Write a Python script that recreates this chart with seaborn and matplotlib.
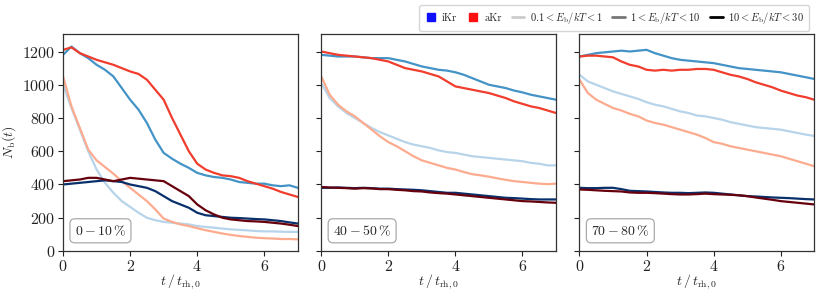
import numpy as np
import pandas as pd
import matplotlib
matplotlib.use("Agg")
import matplotlib.pyplot as plt
import seaborn as sns
from matplotlib.lines import Line2D

# ---------------- data ----------------
t = [0.0, 0.25, 0.5, 0.75, 1.0, 1.25, 1.5, 1.75, 2.0, 2.25, 2.5, 2.75, 3.0, 3.25, 3.5,
     3.75, 4.0, 4.25, 4.5, 4.75, 5.0, 5.25, 5.5, 5.75, 6.0, 6.25, 6.5, 6.75, 7.0]

panel_labels = [r"$0-10\,\%$", r"$40-50\,\%$", r"$70-80\,\%$"]

# panel 1 (0-10 %)
p1_iKr_light = [1000, 860, 730, 600, 490, 410, 350, 300, 265, 230, 200, 185, 175, 170, 165,
                160, 150, 145, 140, 135, 130, 127, 124, 120, 118, 118, 116, 115, 115]
p1_aKr_light = [1050, 870, 740, 610, 545, 505, 465, 420, 380, 340, 300, 250, 195, 175, 160,
                150, 137, 125, 115, 105, 97, 90, 85, 80, 77, 75, 72, 72, 70]
p1_iKr_mid = [1180, 1230, 1190, 1160, 1120, 1090, 1050, 980, 910, 850, 770, 670, 590, 555, 525,
              500, 470, 455, 445, 440, 430, 415, 410, 405, 405, 395, 390, 395, 380]
p1_aKr_mid = [1210, 1225, 1190, 1170, 1150, 1135, 1120, 1100, 1080, 1065, 1030, 970, 910, 800, 700,
              600, 525, 490, 470, 455, 450, 440, 420, 405, 390, 375, 355, 340, 325]
p1_iKr_heavy = [400, 405, 410, 415, 420, 425, 420, 415, 400, 390, 380, 360, 330, 300, 280,
                260, 230, 215, 210, 205, 200, 198, 195, 192, 190, 185, 180, 172, 165]
p1_aKr_heavy = [420, 425, 430, 440, 440, 430, 420, 430, 440, 435, 430, 425, 420, 390, 360,
                330, 280, 245, 220, 200, 190, 185, 180, 178, 175, 170, 165, 158, 150]

# panel 2 (40-50 %)
p2_iKr_light = [1010, 920, 870, 830, 800, 770, 740, 715, 695, 675, 655, 640, 630, 620, 605,
                595, 590, 580, 570, 565, 560, 555, 550, 545, 540, 530, 525, 515, 515]
p2_aKr_light = [1050, 940, 880, 840, 810, 770, 730, 690, 655, 630, 600, 570, 545, 530, 515,
                500, 490, 475, 462, 455, 447, 437, 428, 420, 415, 410, 405, 402, 405]
p2_iKr_mid = [1180, 1175, 1170, 1170, 1170, 1165, 1160, 1160, 1160, 1150, 1140, 1125, 1110, 1100, 1090,
              1085, 1075, 1060, 1040, 1020, 1000, 990, 980, 965, 954, 940, 930, 920, 910]
p2_aKr_mid = [1200, 1190, 1180, 1175, 1170, 1165, 1160, 1150, 1140, 1120, 1100, 1090, 1080, 1065, 1050,
              1020, 990, 980, 970, 960, 950, 935, 920, 900, 885, 870, 860, 845, 830]
p2_iKr_heavy = [380, 380, 382, 380, 378, 380, 378, 375, 375, 372, 370, 368, 365, 360, 355,
                350, 350, 345, 340, 335, 330, 325, 320, 318, 315, 312, 310, 310, 310]
p2_aKr_heavy = [385, 382, 380, 378, 375, 378, 376, 372, 372, 368, 365, 360, 358, 352, 348,
                345, 340, 335, 330, 325, 320, 315, 310, 305, 300, 298, 295, 292, 290]

# panel 3 (70-80 %)
p3_iKr_light = [1060, 1020, 1000, 980, 960, 945, 930, 915, 895, 880, 870, 855, 840, 830, 815,
                810, 800, 790, 775, 765, 755, 745, 740, 735, 730, 720, 710, 700, 692]
p3_aKr_light = [1030, 950, 910, 885, 860, 845, 825, 810, 785, 770, 760, 745, 730, 715, 700,
                680, 655, 645, 630, 620, 610, 600, 590, 580, 570, 555, 540, 525, 510]
p3_iKr_mid = [1170, 1180, 1190, 1195, 1200, 1205, 1200, 1205, 1210, 1190, 1175, 1160, 1150, 1145, 1140,
              1135, 1130, 1120, 1110, 1100, 1095, 1090, 1085, 1080, 1075, 1065, 1055, 1045, 1035]
p3_aKr_mid = [1170, 1175, 1175, 1170, 1165, 1140, 1120, 1110, 1090, 1085, 1090, 1085, 1090, 1090, 1095,
              1095, 1090, 1075, 1060, 1050, 1035, 1015, 1000, 985, 965, 950, 935, 925, 910]
p3_iKr_heavy = [380, 378, 378, 380, 380, 372, 362, 360, 358, 355, 352, 350, 350, 348, 350,
                352, 350, 345, 340, 335, 330, 328, 325, 322, 320, 318, 315, 312, 310]
p3_aKr_heavy = [370, 368, 365, 362, 360, 358, 352, 350, 350, 348, 345, 342, 340, 340, 342,
                345, 342, 340, 338, 335, 330, 322, 315, 308, 300, 295, 290, 285, 280]

panels = [
    [("iKr", "light", p1_iKr_light), ("aKr", "light", p1_aKr_light),
     ("iKr", "mid", p1_iKr_mid), ("aKr", "mid", p1_aKr_mid),
     ("iKr", "heavy", p1_iKr_heavy), ("aKr", "heavy", p1_aKr_heavy)],
    [("iKr", "light", p2_iKr_light), ("aKr", "light", p2_aKr_light),
     ("iKr", "mid", p2_iKr_mid), ("aKr", "mid", p2_aKr_mid),
     ("iKr", "heavy", p2_iKr_heavy), ("aKr", "heavy", p2_aKr_heavy)],
    [("iKr", "light", p3_iKr_light), ("aKr", "light", p3_aKr_light),
     ("iKr", "mid", p3_iKr_mid), ("aKr", "mid", p3_aKr_mid),
     ("iKr", "heavy", p3_iKr_heavy), ("aKr", "heavy", p3_aKr_heavy)],
]

# ---------------- style ----------------
sns.set_style("ticks")
plt.rcParams["font.family"] = ["serif"]
plt.rcParams["font.serif"] = ["cmr10", "DejaVu Serif"]
plt.rcParams["mathtext.fontset"] = "cm"
plt.rcParams["axes.formatter.use_mathtext"] = True
plt.rcParams["axes.unicode_minus"] = False

blues = plt.get_cmap("Blues")
reds = plt.get_cmap("Reds")
colors = {
    ("iKr", "light"): blues(0.3), ("iKr", "mid"): blues(0.62), ("iKr", "heavy"): blues(1.0),
    ("aKr", "light"): reds(0.3), ("aKr", "mid"): reds(0.62), ("aKr", "heavy"): reds(1.0),
}

fig, axes = plt.subplots(1, 3, figsize=(8.3, 2.91), dpi=100, sharey=True)
fig.subplots_adjust(left=0.076, right=0.981, bottom=0.1375, top=0.883, wspace=0.1)

for ax, series, lab in zip(axes, panels, panel_labels):
    rows = []
    for kind, ebin, vals in series:
        for tt, v in zip(t, vals):
            rows.append({"t": tt, "N": v, "key": f"{kind}-{ebin}"})
    df = pd.DataFrame(rows)
    pal = {f"{k}-{e}": colors[(k, e)] for k, e, _ in series}
    sns.lineplot(data=df, x="t", y="N", hue="key", palette=pal, ax=ax,
                 legend=False, linewidth=1.6, estimator=None, sort=False)
    ax.set_xlim(0, 7)
    ax.set_ylim(0, 1305)
    ax.set_xticks([0, 2, 4, 6])
    ax.set_yticks([0, 200, 400, 600, 800, 1000, 1200])
    ax.set_xlabel(r"$t\,/\,t_{\mathrm{rh},0}$", fontsize=10, labelpad=-1)
    ax.set_ylabel("")
    ax.tick_params(labelsize=11.5, direction="out", length=3.5, width=0.8, colors="#222222", pad=2)
    for sp in ax.spines.values():
        sp.set_visible(True)
        sp.set_color("#333333")
        sp.set_linewidth(0.9)
    ax.text(0.05, 0.06, lab, transform=ax.transAxes, fontsize=10, ha="left", va="bottom",
            bbox=dict(boxstyle="round,pad=0.35", fc="white", ec="#aaaaaa", lw=0.9))

axes[0].set_ylabel(r"$N_\mathrm{b}(t)$", fontsize=10, labelpad=3)

handles = [
    Line2D([], [], marker="s", ls="", color="#1010ff", markersize=5.5),
    Line2D([], [], marker="s", ls="", color="#ff1010", markersize=5.5),
    Line2D([], [], color="#cccccc", lw=2),
    Line2D([], [], color="#777777", lw=2),
    Line2D([], [], color="#000000", lw=2),
]
labels = ["iKr", "aKr", r"$0.1<E_\mathrm{b}/kT<1$", r"$1<E_\mathrm{b}/kT<10$",
          r"$10<E_\mathrm{b}/kT<30$"]
fig.legend(handles, labels, loc="upper right", bbox_to_anchor=(0.981, 1.0), ncol=5,
           fontsize=7.6, frameon=True, fancybox=True, handlelength=1.2, handletextpad=0.5,
           columnspacing=0.9, borderpad=0.45, edgecolor="#cccccc")

fig.savefig("out.png", dpi=100)
